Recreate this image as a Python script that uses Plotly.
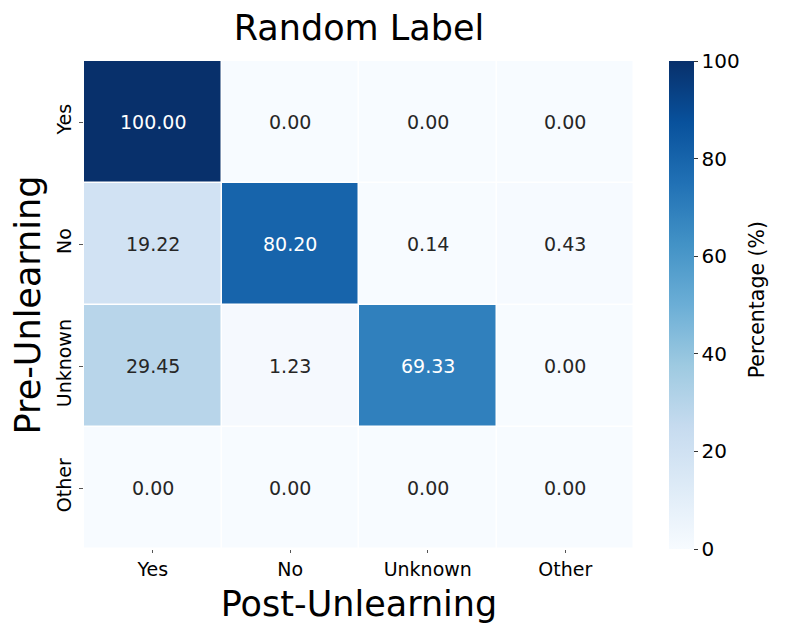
import plotly.graph_objects as go

post_labels = ["Yes", "No", "Unknown", "Other"]
pre_labels = ["Yes", "No", "Unknown", "Other"]
pct = [
    [100.00, 0.00, 0.00, 0.00],
    [19.22, 80.20, 0.14, 0.43],
    [29.45, 1.23, 69.33, 0.00],
    [0.00, 0.00, 0.00, 0.00],
]

fig = go.Figure(go.Heatmap(
    z=pct, x=post_labels, y=pre_labels,
    colorscale="Blues", zmin=0, zmax=100, xgap=1.5, ygap=1.5,
    hovertemplate="%{y} -> %{x}: %{z:.2f}%<extra></extra>",
    colorbar=dict(
        x=1.064, xanchor="left", xref="paper", y=0.5, yanchor="middle", len=1, lenmode="fraction",
        xpad=0, ypad=0, thickness=25, outlinewidth=0, ticks="outside", ticklen=4, tickcolor="#333",
        tickvals=[0, 20, 40, 60, 80, 100], tickfont=dict(size=20, color="black"),
    ),
))

for i, row in enumerate(pct):
    for j, v in enumerate(row):
        fig.add_annotation(
            x=post_labels[j], y=pre_labels[i], text=f"{v:.2f}", showarrow=False,
            font=dict(size=19, color="white" if v > 50 else "#262626"),
        )

# colorbar label placed by hand so it sits where the reference has it
fig.add_annotation(x=1.224, y=0.51, xref="paper", yref="paper", xanchor="center",
                   yanchor="middle", text="Percentage (%)", textangle=-90,
                   showarrow=False, font=dict(size=20.5, color="black"))

# page body has an 8px margin, so the figure is a bit smaller than the window
fig.update_layout(
    width=785, height=626,
    margin=dict(l=76, r=159, t=53, b=85, autoexpand=False),
    paper_bgcolor="white", plot_bgcolor="white",
    font=dict(family="DejaVu Sans", color="black"),
    title=dict(text="Random Label", x=0.5, xref="paper", xanchor="center",
               y=0.968, yref="container", yanchor="middle", font=dict(size=35, color="black")),
    xaxis=dict(title=dict(text="Post-Unlearning", font=dict(size=35), standoff=12),
               tickfont=dict(size=19), ticks="outside", ticklen=3, tickcolor="#555",
               showgrid=False, zeroline=False, automargin=False),
    yaxis=dict(title=dict(text="Pre-Unlearning", font=dict(size=35), standoff=21),
               tickfont=dict(size=19), tickangle=-90, ticks="outside", ticklen=4,
               tickcolor="#555", autorange="reversed", showgrid=False, zeroline=False,
               automargin=False),
)

fig.write_html("out.html")
